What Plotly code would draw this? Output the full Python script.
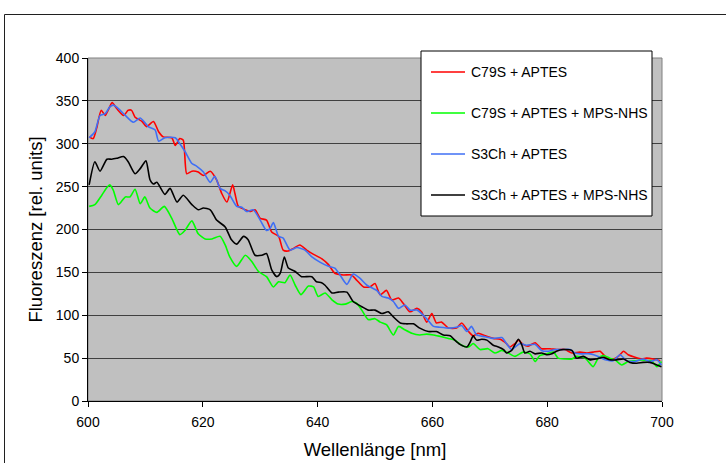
import plotly.graph_objects as go

# ---------------- data ----------------
series_names = ["C79S + APTES", "C79S + APTES + MPS-NHS", "S3Ch + APTES", "S3Ch + APTES + MPS-NHS"]
series_colors = ["#FF0000", "#00FF00", "#3F6FF5", "#000000"]

wl_c79s = [600.2, 600.9, 601.5, 602.3, 603.0, 603.5, 604.2, 605.0, 606.2, 607.0, 607.6, 608.2, 609.4, 610.2,
           611.4, 612.3, 613.1, 614.6, 615.2, 616.0, 616.6, 617.2, 618.1, 619.2, 620.1, 621.3, 622.4, 623.3,
           624.2, 625.2, 625.6, 626.2, 627.4, 628.2, 629.1, 630.0, 631.1, 632.0, 633.2, 634.0, 634.9, 635.8,
           636.9, 638.1, 639.3, 640.7, 641.9, 643.0, 644.5, 645.9, 646.8, 648.0, 649.1, 650.0, 650.9, 652.0,
           652.9, 654.1, 654.9, 656.1, 657.3, 658.1, 659.0, 659.9, 660.7, 661.6, 662.8, 664.2, 665.1, 666.3,
           667.1, 668.0, 669.2, 670.6, 671.8, 672.9, 673.5, 674.4, 675.0, 675.8, 676.7, 677.9, 679.0, 680.5,
           681.6, 683.1, 684.3, 685.7, 686.9, 688.0, 689.2, 690.4, 691.5, 692.4, 693.3, 694.1, 695.3, 696.5,
           697.3, 698.5, 699.7]
c79s_aptes = [308, 306, 318, 339, 333, 339, 348, 341, 333, 339, 339, 331, 326, 320,
              326, 314, 308, 307, 298, 306, 304, 265, 268, 267, 263, 268, 258, 242,
              232, 252, 242, 227, 223, 221, 223, 213, 211, 197, 192, 176, 175, 178,
              182, 176, 171, 166, 159, 149, 147, 147, 141, 133, 133, 137, 124, 129,
              118, 120, 114, 104, 108, 104, 92, 102, 91, 92, 85, 85, 91, 81,
              76, 79, 76, 73, 72, 67, 63, 67, 71, 66, 64, 68, 61, 61,
              60, 60, 56, 57, 56, 57, 58, 50, 49, 52, 58, 54, 51, 49,
              50, 49, 47]

wl_c79s_mps = [600.2, 601.2, 602.4, 603.3, 603.8, 604.4, 605.3, 606.5, 607.3, 608.2, 609.1, 609.9, 610.8, 612.0,
               613.3, 614.6, 616.0, 616.9, 618.1, 619.2, 620.4, 621.6, 623.0, 623.9, 624.7, 625.9, 627.4, 628.5,
               629.7, 631.1, 632.3, 633.2, 634.3, 635.2, 636.1, 637.1, 638.4, 639.3, 640.1, 641.3, 642.5, 643.6,
               644.8, 646.0, 646.8, 647.7, 648.8, 650.0, 650.9, 652.0, 653.2, 654.1, 655.2, 656.4, 657.8, 659.0,
               660.2, 661.6, 662.8, 663.9, 665.1, 666.3, 667.1, 668.3, 669.7, 670.9, 672.1, 673.2, 674.4, 675.8,
               677.0, 677.9, 678.7, 679.9, 681.1, 681.9, 683.1, 684.3, 685.1, 686.6, 688.0, 688.9, 689.8, 690.9,
               691.8, 693.0, 694.1, 695.3, 696.5, 697.3, 698.2, 699.1, 699.9]
c79s_aptes_mps = [227, 229, 240, 249, 252, 246, 229, 238, 238, 247, 230, 238, 225, 220,
                  227, 213, 194, 199, 210, 195, 189, 189, 192, 182, 168, 157, 170, 163,
                  151, 145, 133, 139, 138, 147, 135, 124, 134, 133, 122, 126, 118, 113,
                  113, 116, 114, 106, 95, 96, 92, 89, 77, 87, 83, 79, 77, 78,
                  77, 75, 73, 71, 65, 63, 67, 60, 61, 56, 59, 56, 52, 57,
                  55, 46, 53, 55, 57, 50, 49, 49, 52, 50, 40, 50, 53, 50,
                  48, 42, 46, 47, 48, 47, 47, 40, 46]

wl_s3ch = [600.2, 601.2, 602.1, 603.0, 603.8, 604.4, 605.3, 606.5, 607.9, 609.1, 610.5, 611.7, 612.3, 613.4,
           615.2, 616.0, 616.9, 618.1, 618.9, 620.1, 621.3, 622.1, 623.0, 623.9, 624.7, 625.9, 626.8, 627.6,
           628.8, 630.0, 631.1, 631.7, 632.3, 633.2, 634.0, 635.2, 636.4, 637.8, 639.0, 640.4, 641.9, 643.0,
           643.9, 645.1, 646.2, 647.4, 648.6, 650.3, 651.2, 652.3, 653.2, 654.1, 655.2, 656.1, 657.3, 658.1,
           659.0, 660.2, 661.3, 663.1, 664.2, 665.1, 666.0, 666.8, 667.7, 669.2, 670.6, 672.1, 672.9, 673.8,
           674.4, 675.3, 676.4, 677.9, 679.0, 680.2, 681.4, 682.8, 684.0, 684.8, 686.0, 687.5, 688.9, 690.1,
           691.5, 692.7, 693.8, 695.3, 696.7, 697.9, 699.1, 699.9]
s3ch_aptes = [307, 314, 333, 335, 343, 345, 341, 333, 325, 330, 320, 316, 303, 307,
              307, 300, 291, 277, 274, 267, 255, 262, 248, 245, 240, 227, 226, 221,
              223, 211, 199, 201, 208, 192, 190, 176, 179, 176, 168, 162, 157, 155,
              147, 136, 148, 143, 135, 129, 122, 120, 116, 108, 112, 106, 106, 102,
              96, 87, 86, 85, 86, 88, 81, 87, 77, 75, 73, 74, 67, 60,
              63, 67, 65, 66, 59, 58, 60, 60, 60, 56, 55, 55, 52, 48,
              47, 54, 47, 46, 49, 46, 48, 42]

wl_s3ch_mps = [600.2, 601.2, 602.1, 603.3, 604.1, 605.0, 606.2, 607.0, 608.2, 609.1, 610.1, 610.8, 611.4, 612.0,
               613.4, 614.3, 615.5, 616.6, 618.1, 619.2, 620.1, 621.3, 622.4, 623.9, 625.0, 625.9, 627.1, 627.9,
               629.1, 630.3, 631.1, 632.0, 632.9, 633.5, 634.2, 634.9, 636.1, 637.2, 639.0, 639.8, 640.7, 641.3,
               642.5, 643.6, 645.1, 646.2, 647.7, 648.8, 650.0, 651.2, 652.3, 653.2, 654.4, 655.5, 656.7, 657.8,
               659.3, 660.7, 661.9, 663.1, 663.9, 664.8, 666.0, 666.6, 667.1, 667.7, 668.6, 669.5, 670.6, 671.5,
               672.4, 672.9, 673.8, 674.4, 675.0, 675.6, 676.1, 677.0, 677.9, 679.0, 679.9, 680.8, 681.6, 682.8,
               684.3, 685.1, 686.3, 687.5, 688.6, 689.8, 690.9, 692.1, 693.3, 694.4, 695.6, 696.7, 697.9, 699.1,
               699.9]
s3ch_aptes_mps = [252, 279, 268, 282, 282, 283, 285, 279, 265, 271, 280, 258, 253, 255,
                  241, 248, 232, 240, 229, 223, 225, 223, 211, 203, 188, 183, 192, 188,
                  170, 170, 172, 153, 145, 149, 168, 155, 151, 145, 145, 139, 138, 135,
                  126, 127, 127, 116, 110, 106, 106, 102, 104, 98, 91, 90, 90, 85,
                  81, 81, 77, 76, 71, 66, 63, 69, 76, 71, 72, 71, 65, 63,
                  60, 56, 59, 66, 72, 65, 56, 58, 55, 56, 54, 55, 58, 60,
                  59, 50, 52, 48, 49, 51, 48, 48, 49, 45, 44, 45, 45, 42,
                  40]

x_ticks = [600, 620, 640, 660, 680, 700]
y_ticks = [0, 50, 100, 150, 200, 250, 300, 350, 400]
x_title = "Wellenlänge [nm]"
y_title = "Fluoreszenz [rel. units]"

# ---------------- layout geometry ----------------
W, H = 726, 463
L, R, T, B = 88, 64, 58, 62
PW, PH = W - L - R, H - T - B
FONT = "Liberation Sans, Arial, sans-serif"


def px(xp):
    return (xp - L) / PW


def py(yp):
    return (H - B - yp) / PH


fig = go.Figure()
xs = [wl_c79s, wl_c79s_mps, wl_s3ch, wl_s3ch_mps]
ys = [c79s_aptes, c79s_aptes_mps, s3ch_aptes, s3ch_aptes_mps]
for name, color, x, y in zip(series_names, series_colors, xs, ys):
    fig.add_trace(go.Scatter(x=x, y=y, name=name, mode="lines",
                             line=dict(color=color, width=1.6, shape="spline", smoothing=0.6),
                             showlegend=False))

shapes = [
    # outer chart frame
    dict(type="rect", xref="paper", yref="paper", x0=px(4.5), x1=px(760), y0=py(500), y1=py(14.5),
         line=dict(color="#202020", width=1), fillcolor="rgba(0,0,0,0)", layer="below"),
    # plot area border
    dict(type="rect", xref="paper", yref="paper", x0=0, x1=1, y0=0, y1=1,
         line=dict(color="#808080", width=1), fillcolor="rgba(0,0,0,0)", layer="below"),
    # legend box
    dict(type="rect", xref="paper", yref="paper", x0=px(421), x1=px(652), y0=py(216), y1=py(51),
         line=dict(color="#000000", width=1), fillcolor="#FFFFFF", layer="above"),
]
annotations = []
legend_rows = [72, 113, 154, 195]
for name, color, row in zip(series_names, series_colors, legend_rows):
    shapes.append(dict(type="line", xref="paper", yref="paper", x0=px(431), x1=px(465), y0=py(row), y1=py(row),
                       line=dict(color=color, width=1.5), layer="above"))
    annotations.append(dict(xref="paper", yref="paper", x=px(469), y=py(row), text=name, showarrow=False,
                            xanchor="left", yanchor="middle", font=dict(family=FONT, size=14, color="#000000")))

fig.update_layout(
    width=W, height=H,
    margin=dict(l=L, r=R, t=T, b=B, autoexpand=False),
    paper_bgcolor="#FFFFFF",
    plot_bgcolor="#C0C0C0",
    font=dict(family=FONT, size=14, color="#000000"),
    hovermode=False,
    shapes=shapes,
    annotations=annotations,
    xaxis=dict(range=[600, 700], tickvals=x_ticks, ticktext=[str(v) for v in x_ticks],
               showgrid=False, zeroline=False, showline=True, linecolor="#000000", linewidth=1,
               ticks="outside", ticklen=5, tickcolor="#000000", ticklabelstandoff=3,
               title=dict(text=x_title, font=dict(size=18.5), standoff=14)),
    yaxis=dict(range=[0, 400], tickvals=y_ticks, ticktext=[str(v) for v in y_ticks],
               showgrid=True, gridcolor="#404040", gridwidth=1, zeroline=False,
               showline=True, linecolor="#000000", linewidth=1,
               ticks="outside", ticklen=5, tickcolor="#000000",
               title=dict(text=y_title, font=dict(size=18.5), standoff=8)),
)

fig.write_html("out.html", config={"displayModeBar": False},
               post_script="document.body.style.margin='0px';document.body.style.overflow='hidden';")
